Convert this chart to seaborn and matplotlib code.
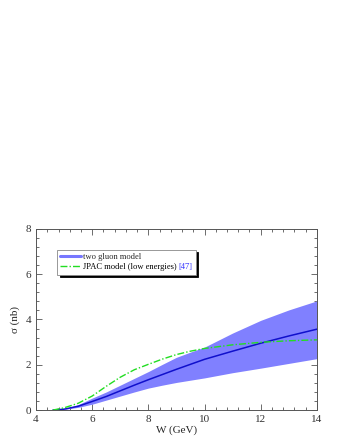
import numpy as np
import pandas as pd
import matplotlib
matplotlib.use("Agg")
import matplotlib.pyplot as plt
import matplotlib.transforms as mtransforms
from matplotlib.ticker import MultipleLocator
from matplotlib.lines import Line2D
import seaborn as sns

# data
W_two = [4.6, 5.0, 5.5, 6.0, 6.5, 7.0, 7.5, 8.0, 8.5, 9.0, 9.5, 10.0, 11.0, 12.0, 13.0, 14.0]
sig_two = [0.0, 0.04, 0.17, 0.38, 0.6, 0.85, 1.1, 1.34, 1.57, 1.8, 2.02, 2.24, 2.6, 2.95, 3.27, 3.57]
sig_up = [0.0, 0.05, 0.24, 0.53, 0.8, 1.1, 1.4, 1.7, 2.02, 2.33, 2.56, 2.78, 3.4, 3.96, 4.42, 4.82]
sig_lo = [0.0, 0.03, 0.12, 0.26, 0.44, 0.62, 0.8, 0.97, 1.1, 1.22, 1.32, 1.42, 1.65, 1.85, 2.06, 2.27]

W_jpac = [4.6, 5.0, 5.5, 6.0, 6.5, 7.0, 7.5, 8.0, 8.5, 9.0, 9.5, 10.0, 11.0, 12.0, 13.0, 14.0]
sig_jpac = [0.0, 0.1, 0.3, 0.62, 1.05, 1.45, 1.78, 2.02, 2.25, 2.45, 2.6, 2.72, 2.88, 2.99, 3.06, 3.1]

labels = ["two gluon model", "JPAC model (low energies)", "[47]"]

df_two = pd.DataFrame({"W": W_two, "sigma": sig_two})
df_jpac = pd.DataFrame({"W": W_jpac, "sigma": sig_jpac})

sns.set_style("ticks")
plt.rcParams["font.family"] = ["Liberation Serif", "DejaVu Serif"]

fig = plt.figure(figsize=(3.4, 4.4), dpi=100)
ax = fig.add_axes([0.106, 0.068, 0.826, 0.412])

dash = (0, (5, 1.5, 1, 1.5))
ax.fill_between(W_two, sig_lo, sig_up, color="#8080ff", linewidth=0, zorder=1)
sns.lineplot(data=df_two, x="W", y="sigma", ax=ax, color="#1010cc", linewidth=1.1,
             zorder=3, label="_nolegend_")
sns.lineplot(data=df_jpac, x="W", y="sigma", ax=ax, color="#22dd22", linewidth=1.0,
             linestyle=dash, zorder=4, label="_nolegend_")

h1 = Line2D([], [], color="#7777ff", linewidth=2.2)
h2 = Line2D([], [], color="#22dd22", linewidth=1.0, linestyle=dash)
fs_leg = 6.1
leg = ax.legend([h1, h2], [labels[0], labels[1] + " " + labels[2]],
                loc="upper left", bbox_to_anchor=(0.075, 0.885), fontsize=fs_leg,
                frameon=True, fancybox=False, framealpha=1, edgecolor="#888888",
                handlelength=2.4, handletextpad=0.2, borderpad=0.4, labelspacing=0.25,
                borderaxespad=0,
                shadow={"color": "black", "alpha": 1, "ox": 2, "oy": -2})
leg.get_frame().set_linewidth(0.6)

ax.set_xlim(4, 14)
ax.set_ylim(0, 8)
ax.xaxis.set_major_locator(MultipleLocator(2))
ax.xaxis.set_minor_locator(MultipleLocator(0.4))
ax.yaxis.set_major_locator(MultipleLocator(2))
ax.yaxis.set_minor_locator(MultipleLocator(0.4))
ax.tick_params(which="both", direction="in", top=True, right=True, colors="#555555",
               labelcolor="#333333", labelsize=8, width=0.6)
ax.tick_params(which="major", length=4)
ax.tick_params(which="minor", length=2)
for s in ax.spines.values():
    s.set_color("#555555")
    s.set_linewidth(0.7)
ax.set_xlabel("W (GeV)", fontsize=8, labelpad=1)
ax.set_ylabel("σ (nb)", fontsize=8, labelpad=4)

# draw the second legend label in two colours (black text + blue reference)
fig.canvas.draw()
r = fig.canvas.get_renderer()
t = leg.get_texts()[1]
bb = t.get_window_extent(r)
anchor = t.get_transform().transform(t.get_position())
t.set_visible(False)
ident = mtransforms.IdentityTransform()
fig.text(anchor[0], anchor[1], labels[1], transform=ident, ha="left", va="baseline",
         fontsize=fs_leg, color="black", zorder=10)
fig.text(bb.x1, anchor[1], labels[2], transform=ident, ha="right", va="baseline",
         fontsize=fs_leg, color="#3333ff", zorder=10)

fig.savefig("out.png", dpi=100)
